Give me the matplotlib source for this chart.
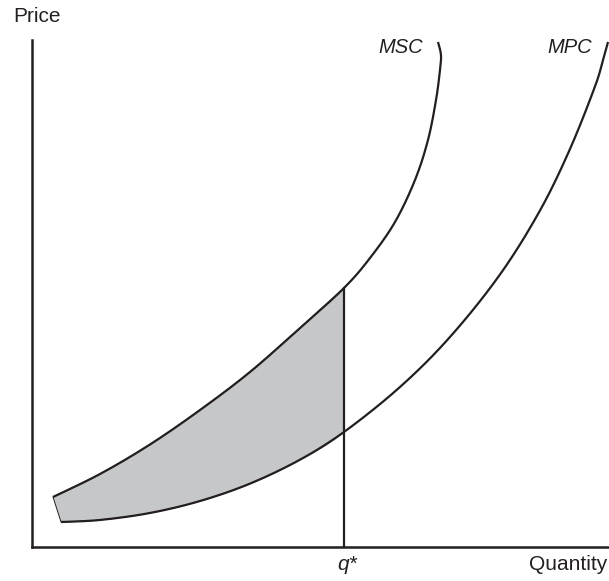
import matplotlib
matplotlib.use("Agg")
import matplotlib.pyplot as plt
import numpy as np

# curve points (quantity, price), both on a 0-100 scale
msc_q = [3.64, 11.79, 20.45, 29.12, 37.78, 46.45, 54.07, 58.58, 62.91, 66.38,
         68.63, 70.02, 70.71, 70.88, 70.36]
msc_p = [9.86, 14.40, 20.22, 27.02, 34.52, 43.20, 51.08, 57.00, 64.10, 72.39,
         80.28, 88.17, 94.08, 97.04, 99.61]

mpc_q = [5.03, 11.79, 20.45, 29.12, 37.78, 46.45, 54.07, 63.78, 72.44, 81.11,
         88.04, 93.24, 97.57, 98.96, 99.83]
mpc_p = [4.93, 5.33, 6.71, 9.07, 12.50, 17.22, 22.68, 31.56, 41.42, 53.75,
         66.37, 78.50, 90.83, 96.06, 99.61]

q_star = 54.07
curve_labels = ["MSC", "MPC"]

INK = "#231f20"
FILL = "#c6c7c9"
FONT = ["Liberation Sans", "DejaVu Sans"]


def smooth(xs, ys, n=20):
    """Catmull-Rom path through the read points (for drawing only)."""
    pts = np.column_stack([xs, ys])
    pts = np.vstack([pts[0], pts, pts[-1]])
    out = []
    for i in range(1, len(pts) - 2):
        p0, p1, p2, p3 = pts[i - 1], pts[i], pts[i + 1], pts[i + 2]
        t = np.linspace(0, 1, n, endpoint=False)[:, None]
        seg = 0.5 * ((2 * p1) + (-p0 + p2) * t
                     + (2 * p0 - 5 * p1 + 4 * p2 - p3) * t ** 2
                     + (-p0 + 3 * p1 - 3 * p2 + p3) * t ** 3)
        out.append(seg)
    out.append(pts[-2][None, :])
    out = np.vstack(out)
    return out[:, 0], out[:, 1]


fig = plt.figure(figsize=(6.09, 5.81), dpi=100)
ax = fig.add_axes([32 / 609, 34 / 581, 577 / 609, 507 / 581])
ax.set_xlim(0, 100)
ax.set_ylim(0, 100)
for side in ["top", "right"]:
    ax.spines[side].set_visible(False)
for side in ["left", "bottom"]:
    ax.spines[side].set_linewidth(1.8)
    ax.spines[side].set_color(INK)
ax.set_xticks([])
ax.set_yticks([])

sx, sy = smooth(msc_q, msc_p)
px, py = smooth(mpc_q, mpc_p)

# shaded region between the curves up to q*
k = msc_q.index(q_star)
m = mpc_q.index(q_star)
fx1, fy1 = smooth(msc_q[: k + 1], msc_p[: k + 1])
fx2, fy2 = smooth(mpc_q[: m + 1], mpc_p[: m + 1])
poly_x = np.concatenate([fx1, fx2[::-1]])
poly_y = np.concatenate([fy1, fy2[::-1]])
ax.fill(poly_x, poly_y, facecolor=FILL, edgecolor=INK, linewidth=0.7, zorder=1)

ax.plot(sx, sy, color=INK, linewidth=1.6, solid_capstyle="butt", zorder=3)
ax.plot(px, py, color=INK, linewidth=1.6, solid_capstyle="butt", zorder=3)
ax.plot([q_star, q_star], [0, msc_p[k]], color=INK, linewidth=1.6, zorder=3)

ax.text(60.1, 97.4, curve_labels[0], fontsize=14.5, style="italic",
        family=FONT, color=INK, ha="left", va="baseline")
ax.text(89.3, 97.4, curve_labels[1], fontsize=14.5, style="italic",
        family=FONT, color=INK, ha="left", va="baseline")

ax.text(-3.3, 103.6, "Price", fontsize=15, family=FONT, color=INK,
        ha="left", va="baseline", clip_on=False)
ax.text(99.7, -4.5, "Quantity", fontsize=15, family=FONT, color=INK,
        ha="right", va="baseline", clip_on=False)
ax.text(q_star + 0.5, -4.5, "q*", fontsize=15, style="italic", family=FONT,
        color=INK, ha="center", va="baseline", clip_on=False)

fig.savefig("out.png", dpi=100)
